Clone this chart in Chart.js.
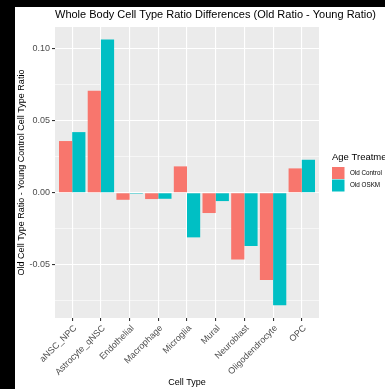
<!DOCTYPE html>
<html>
<head>
<meta charset="utf-8">
<script src="https://cdn.jsdelivr.net/npm/chart.js@4.4.1/dist/chart.umd.min.js"></script>
<style>
html, body { margin: 0; padding: 0; background: #000; overflow: hidden; }
#wrap { position: absolute; left: 15px; top: 7px; width: 370px; height: 382px; background: #fff; }
</style>
</head>
<body>
<div id="wrap"><canvas id="canvas" width="370" height="382"></canvas></div>
<script>
const chartTitle = 'Whole Body Cell Type Ratio Differences (Old Ratio - Young Ratio)'
const cellTypes = ['aNSC_NPC', 'Astrocyte_qNSC', 'Endothelial', 'Macrophage', 'Microglia', 'Mural', 'Neuroblast', 'Oligodendrocyte', 'OPC']
const oldControl = [0.0359, 0.0708, -0.0049, -0.0044, 0.0183, -0.0141, -0.0463, -0.0606, 0.0169]
const oldOSKM = [0.0421, 0.1065, -0.0007, -0.0042, -0.0310, -0.0058, -0.0370, -0.0782, 0.0229]
const seriesLabels = ['Old Control', 'Old OSKM']
const seriesColors = ['#F8766D', '#00BFC4']
const legendTitle = 'Age Treatment'
const yLabelTicks = [-0.05, 0, 0.05, 0.10]

const fontFamily = '"Liberation Sans", Arial, sans-serif'

const isMajor = v => yLabelTicks.some(t => Math.abs(t - v) < 1e-9)

// grey panel, ggplot style
const panelBg = {
    id: 'panelBg',
    beforeDraw(chart) {
        const { ctx, chartArea: a } = chart
        ctx.save()
        ctx.fillStyle = '#EBEBEB'
        ctx.fillRect(a.left, a.top, a.right - a.left, a.bottom - a.top)
        ctx.restore()
    }
}

// title + legend drawn like ggplot
const extras = {
    id: 'extras',
    afterDraw(chart) {
        const { ctx, chartArea: a } = chart
        ctx.save()
        ctx.textBaseline = 'middle'
        ctx.textAlign = 'left'
        ctx.fillStyle = '#000'
        ctx.font = '11px ' + fontFamily
        ctx.fillText(chartTitle, a.left, 8)

        const lx = 317
        ctx.font = '9.5px ' + fontFamily
        ctx.fillText(legendTitle, lx, 150)
        const key = 12.5
        chart.data.datasets.forEach((ds, i) => {
            const ky = 160 + i * key
            ctx.fillStyle = ds.backgroundColor
            ctx.fillRect(lx, ky, 12.5, key - 0.5)
            ctx.fillStyle = '#000'
            ctx.font = '6.3px ' + fontFamily
            ctx.fillText(ds.label, lx + 18, ky + key / 2)
        })
        ctx.restore()
    }
}

const configChart = {
    type: 'bar',
    plugins: [panelBg, extras],
    data: {
        datasets: [
            {
                label: seriesLabels[0],
                data: oldControl.map((v, i) => ({ x: i, y: v })),
                backgroundColor: seriesColors[0]
            },
            {
                label: seriesLabels[1],
                data: oldOSKM.map((v, i) => ({ x: i, y: v })),
                backgroundColor: seriesColors[1]
            }
        ]
    },
    options: {
        responsive: false,
        animation: false,
        categoryPercentage: 0.92,
        barPercentage: 1.0,
        layout: { padding: { left: 0, right: 66, top: 20, bottom: 0 } },
        plugins: {
            legend: { display: false },
            tooltip: { enabled: false },
            title: { display: false }
        },
        scales: {
            x: {
                type: 'linear',
                offset: false,
                min: -0.6,
                max: cellTypes.length - 1 + 0.6,
                afterBuildTicks(scale) {
                    scale.ticks = cellTypes.map((c, i) => ({ value: i }))
                },
                afterFit(scale) { scale.height = 71 },
                border: { display: false },
                grid: {
                    offset: false,
                    color: '#FFFFFF',
                    lineWidth: 1.1,
                    tickColor: '#333333',
                    tickLength: 3
                },
                ticks: {
                    autoSkip: false,
                    maxRotation: 45,
                    minRotation: 45,
                    padding: 2,
                    labelOffset: 3,
                    color: '#4D4D4D',
                    font: { family: fontFamily, size: 9 },
                    callback: v => cellTypes[v]
                },
                title: {
                    display: true,
                    text: 'Cell Type',
                    color: '#000',
                    font: { family: fontFamily, size: 9 },
                    padding: { top: 0, bottom: 0.6 }
                }
            },
            y: {
                min: -0.087,
                max: 0.1151,
                afterFit(scale) { scale.width = 40 },
                border: { display: false },
                grid: {
                    color: '#FFFFFF',
                    lineWidth: c => isMajor(c.tick.value) ? 1.1 : 0.55,
                    tickColor: c => isMajor(c.tick.value) ? '#333333' : 'rgba(0,0,0,0)',
                    tickLength: 3
                },
                ticks: {
                    stepSize: 0.025,
                    includeBounds: false,
                    padding: 2,
                    color: '#4D4D4D',
                    font: { family: fontFamily, size: 9 },
                    callback: v => isMajor(v) ? v.toFixed(2) : ''
                },
                title: {
                    display: true,
                    text: 'Old Cell Type Ratio - Young Control Cell Type Ratio',
                    color: '#000',
                    font: { family: fontFamily, size: 9 },
                    padding: { top: 1.6, bottom: 0 }
                }
            }
        }
    }
}

const canvas = document.getElementById('canvas')
const myChart = new Chart(canvas, configChart)
</script>
</body>
</html>
